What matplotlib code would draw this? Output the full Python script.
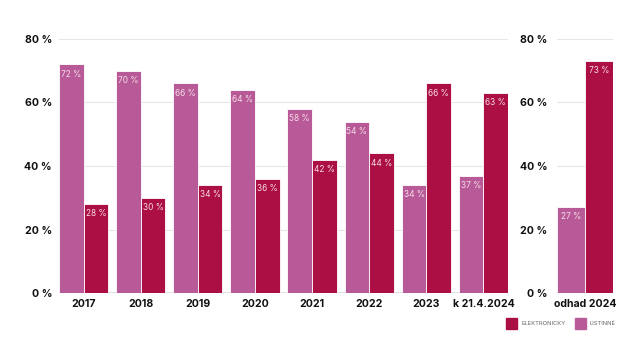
import numpy as np
import matplotlib.pyplot as plt
from matplotlib.patches import Rectangle

years = ["2017", "2018", "2019", "2020", "2021", "2022", "2023", "k 21.4.2024"]
listinne = [72, 70, 66, 64, 58, 54, 34, 37]
elektronicky = [28, 30, 34, 36, 42, 44, 66, 63]

est_label = ["odhad 2024"]
est_listinne = [27]
est_elektronicky = [73]

pink = "#B85A97"
crimson = "#AC0F43"
grid_c = "#e6e6e6"
font = ["Inter", "DejaVu Sans"]

plt.rcParams['font.family'] = font

fig = plt.figure(figsize=(6.4, 3.6), dpi=100)
ax = fig.add_axes([59 / 640, 1 - 293 / 360, 449 / 640, 254 / 360])
ax2 = fig.add_axes([557 / 640, 1 - 293 / 360, 56 / 640, 254 / 360])


def style(a):
    a.set_ylim(0, 80)
    a.set_yticks([0, 20, 40, 60, 80])
    a.set_yticklabels([f"{v} %" for v in [0, 20, 40, 60, 80]])
    a.grid(axis='y', color=grid_c, linewidth=0.8)
    a.set_axisbelow(True)
    for s in a.spines.values():
        s.set_visible(False)
    a.axhline(0, color="#dddddd", linewidth=2, zorder=0)
    a.tick_params(axis='both', length=0, labelsize=7.6, labelcolor="#111111")
    a.tick_params(axis='y', pad=5)
    a.tick_params(axis='x', pad=4)
    for lab in a.get_xticklabels() + a.get_yticklabels():
        lab.set_fontweight('bold')


def labels(a, bars, vals):
    for b, v in zip(bars, vals):
        a.annotate(f"{v} %", (b.get_x() + b.get_width() / 2, b.get_height()),
                   xytext=(0, -7), textcoords='offset points',
                   ha='center', va='center', fontsize=6, color="#f6dbe8")


x = np.arange(len(years))
w = 0.43
b1 = ax.bar(x - w / 2, listinne, w, color=pink, edgecolor='white', linewidth=0.6)
b2 = ax.bar(x + w / 2, elektronicky, w, color=crimson, edgecolor='white', linewidth=0.6)
ax.set_xlim(-w, len(years) - 1 + w)
ax.set_xticks(x)
ax.set_xticklabels(years)
style(ax)
labels(ax, b1, listinne)
labels(ax, b2, elektronicky)

x2 = np.arange(len(est_label))
w2 = 0.48
c1 = ax2.bar(x2 - w2 / 2, est_listinne, w2, color=pink, edgecolor='white', linewidth=0.6)
c2 = ax2.bar(x2 + w2 / 2, est_elektronicky, w2, color=crimson, edgecolor='white', linewidth=0.6)
ax2.set_xlim(-w2, w2)
ax2.set_xticks(x2)
ax2.set_xticklabels(est_label)
style(ax2)
ax2.tick_params(axis='y', pad=7)
labels(ax2, c1, est_listinne)
labels(ax2, c2, est_elektronicky)

# legend
for x0, col, txt in [(506, crimson, "ELEKTRONICKY"), (575, pink, "LISTINNÉ")]:
    fig.add_artist(Rectangle((x0 / 640, 1 - 329 / 360), 11 / 640, 11 / 360,
                             transform=fig.transFigure, color=col))
    fig.text((x0 + 15) / 640, 1 - 323.5 / 360, txt, fontsize=4.2, color="#666666",
             va='center', ha='left')

fig.savefig("out.png", dpi=100)
